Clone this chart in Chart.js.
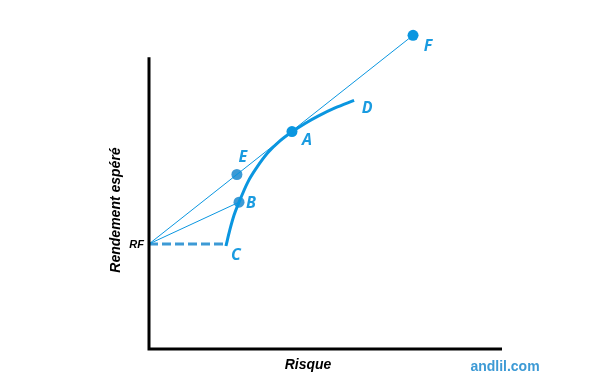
<!DOCTYPE html>
<html>
<head>
<meta charset="utf-8">
<script src="https://cdn.jsdelivr.net/npm/chart.js@4"></script>
<style>
  html, body { margin: 0; padding: 0; background: #fff; }
  #wrap { width: 597px; height: 389px; }
</style>
</head>
<body>
<div id="wrap"><canvas id="chart"></canvas></div>
<script>
// Frontière efficiente (risque, rendement)
const curveRisk   = [21.8, 22.9, 24.1, 25.5, 28.0, 30.6, 33.7, 37.1, 40.5, 44.2, 47.9, 52.7, 58.1];
const curveReturn = [35.3, 40.8, 45.9, 50.3, 57.2, 62.3, 67.3, 71.3, 74.4, 77.3, 79.8, 82.6, 85.2];

// Points nommés
const pointNames  = ['RF', 'C', 'B', 'E', 'A', 'F', 'D'];
const pointRisk   = [0, 21.8, 25.5, 24.9, 40.5, 74.8, 58.1];
const pointReturn = [36.0, 36.0, 50.3, 59.8, 74.5, 107.5, 85.2];

const P = {};
pointNames.forEach((n, i) => { P[n] = { x: pointRisk[i], y: pointReturn[i] }; });

const curve = curveRisk.map((x, i) => ({ x: x, y: curveReturn[i] }));

// Position des étiquettes (décalage en pixels)
const labelOffset = {
    F: [15, 11], D: [13, 8], A: [15, 9], E: [6, -17], B: [12, 1], C: [10, 11]
};

const bright = '#0a96e0';
const steel = '#3d9ad5';

const annotations = {
    id: 'annotations',
    afterDatasetsDraw(chart) {
        const ctx = chart.ctx;
        const xs = chart.scales.x, ys = chart.scales.y;
        const x0 = xs.getPixelForValue(0), y0 = ys.getPixelForValue(0);
        const x1 = xs.getPixelForValue(100), y1 = ys.getPixelForValue(100);
        ctx.save();
        // axes
        ctx.strokeStyle = '#000';
        ctx.lineWidth = 3;
        ctx.beginPath();
        ctx.moveTo(x0, y1);
        ctx.lineTo(x0, y0);
        ctx.lineTo(x1, y0);
        ctx.stroke();

        // lettres
        ctx.fillStyle = '#1a9be0';
        ctx.font = 'italic bold 16px "Open Sans"';
        ctx.textAlign = 'center';
        ctx.textBaseline = 'middle';
        Object.keys(labelOffset).forEach(n => {
            const px = xs.getPixelForValue(P[n].x) + labelOffset[n][0];
            const py = ys.getPixelForValue(P[n].y) + labelOffset[n][1];
            ctx.fillText(n, px, py);
        });

        // RF
        ctx.fillStyle = '#000';
        ctx.font = 'italic bold 11px "Liberation Sans"';
        ctx.textAlign = 'right';
        ctx.fillText('RF', x0 - 5, ys.getPixelForValue(P.RF.y) + 1);

        // titres des axes
        ctx.font = 'italic bold 14px "Liberation Sans"';
        ctx.textAlign = 'center';
        ctx.fillText('Risque', 308, 365);
        ctx.save();
        ctx.translate(116, 210);
        ctx.rotate(-Math.PI / 2);
        ctx.fillText('Rendement espéré', 0, 0);
        ctx.restore();

        // filigrane
        ctx.fillStyle = steel;
        ctx.font = 'bold 14px "Liberation Sans"';
        ctx.fillText('andlil.com', 505, 367);
        ctx.restore();
    }
};

new Chart(document.getElementById('chart').getContext('2d'), {
    type: 'scatter',
    data: {
        datasets: [{
            data: curve,
            showLine: true,
            cubicInterpolationMode: 'monotone',
            borderColor: bright,
            borderWidth: 3,
            pointRadius: 0
        }, {
            data: [P.RF, P.F],
            showLine: true,
            borderColor: bright,
            borderWidth: 1,
            pointRadius: 0
        }, {
            data: [P.RF, P.B],
            showLine: true,
            borderColor: bright,
            borderWidth: 1,
            pointRadius: 0
        }, {
            data: [P.RF, P.C],
            showLine: true,
            borderColor: steel,
            borderWidth: 3,
            borderDash: [9, 4],
            pointRadius: 0
        }, {
            data: [P.A, P.F],
            backgroundColor: bright,
            borderWidth: 0,
            pointRadius: 5.5
        }, {
            data: [P.E, P.B],
            backgroundColor: steel,
            borderWidth: 0,
            pointRadius: 5.5
        }]
    },
    options: {
        responsive: true,
        maintainAspectRatio: false,
        animation: false,
        clip: false,
        layout: { padding: { left: 149, right: 95, top: 28, bottom: 40 } },
        plugins: { legend: { display: false }, tooltip: { enabled: false } },
        scales: {
            x: { display: false, min: 0, max: 100 },
            y: { display: false, min: 0, max: 110 }
        }
    },
    plugins: [annotations]
});
</script>
</body>
</html>
